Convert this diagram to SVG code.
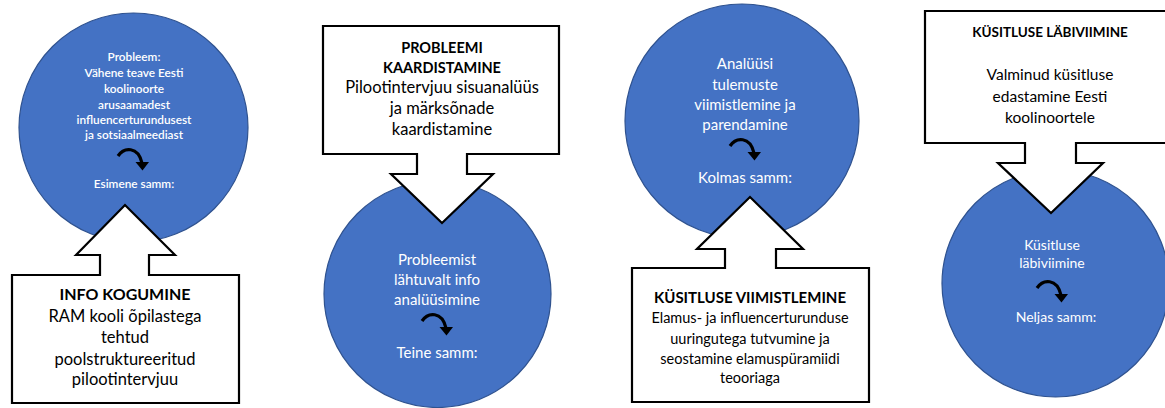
<svg xmlns="http://www.w3.org/2000/svg" width="1165" height="408" viewBox="0 0 1165 408">
<style>
.bub{fill:#4472C4;stroke:#2F528F;stroke-width:1.2}
.call{fill:#fff;stroke:#000;stroke-width:2.2;stroke-linejoin:miter}
text{font-family:Lato,"Open Sans","DejaVu Sans",sans-serif;text-anchor:middle}
.w{fill:#fff}
.k{fill:#000}
.b{font-weight:bold}
</style>
<defs>
<g id="curl">
<path d="M-15,-4 C-9,-13 5,-14 9,3" fill="none" stroke="#000" stroke-width="3.2"/>
<polygon points="2.5,2 16,2 9.5,10.5" fill="#000"/>
</g>
</defs>
<rect width="1165" height="408" fill="#fff"/>

<g id="step1">
<circle class="bub" cx="133.5" cy="127.5" r="114.5"/>
<g class="w" font-size="11.8" font-weight="600">
<text x="134" y="61">Probleem:</text>
<text x="134" y="77">Vähene teave Eesti</text>
<text x="134" y="93">koolinoorte</text>
<text x="134" y="109">arusaamadest</text>
<text x="134" y="124">influencerturundusest</text>
<text x="134" y="139">ja sotsiaalmeediast</text>
<text x="134" y="188">Esimene samm:</text>
</g>
</g>

<g id="step2">
<circle class="bub" cx="437.5" cy="294" r="113.5"/>
<g class="w" font-size="15">
<text x="437" y="265">Probleemist</text>
<text x="437" y="285">lähtuvalt info</text>
<text x="437" y="305">analüüsimine</text>
<text x="437" y="358">Teine samm:</text>
</g>
</g>

<g id="step3">
<circle class="bub" cx="742" cy="121" r="117"/>
<g class="w" font-size="15">
<text x="745" y="69">Analüüsi</text>
<text x="745" y="90">tulemuste</text>
<text x="745" y="110">viimistlemine ja</text>
<text x="745" y="130">parendamine</text>
<text x="745" y="183">Kolmas samm:</text>
</g>
</g>

<g id="step4">
<circle class="bub" cx="1055.5" cy="283.5" r="113.5"/>
<g class="w" font-size="14">
<text x="1052" y="250">Küsitluse</text>
<text x="1052" y="268">läbiviimine</text>
<text x="1056" y="322">Neljas samm:</text>
</g>
</g>

<g id="info-kogumine">
<path class="call" d="M12,275 H100 V255 H76 L125,205 L175,255 H149 V275 H239 V403 H12 Z"/>
<text class="k b" x="125" y="300" font-size="16">INFO KOGUMINE</text>
<g class="k" font-size="16.5">
<text x="125" y="321.5">RAM kooli õpilastega</text>
<text x="125" y="343">tehtud</text>
<text x="125" y="364.5">poolstruktureeritud</text>
<text x="125" y="385">pilootintervjuu</text>
</g>
</g>

<g id="probleemi-kaardistamine">
<path class="call" d="M323,26 H559 V154 H467 V174 H493 L442,223 L391,174 H417 V154 H323 Z"/>
<g class="k b" font-size="14.5">
<text x="442" y="53">PROBLEEMI</text>
<text x="442" y="73">KAARDISTAMINE</text>
</g>
<g class="k" font-size="16.5">
<text x="442" y="93">Pilootintervjuu sisuanalüüs</text>
<text x="442" y="114">ja märksõnade</text>
<text x="442" y="135">kaardistamine</text>
</g>
</g>

<g id="kusitluse-viimistlemine">
<path class="call" d="M632,268 H725 V249 H697 L750,197 L803,249 H776 V268 H869 V402 H632 Z"/>
<text class="k b" x="750" y="303" font-size="15">KÜSITLUSE VIIMISTLEMINE</text>
<g class="k" font-size="14.5">
<text x="750" y="323">Elamus- ja influencerturunduse</text>
<text x="750" y="344">uuringutega tutvumine ja</text>
<text x="750" y="364">seostamine elamuspüramiidi</text>
<text x="750" y="383">teooriaga</text>
</g>
</g>

<g id="kusitluse-labiviimine">
<path class="call" d="M925,11 H1180 V143 H1076 V163 H1103 L1051,213 L998,163 H1025 V143 H925 Z"/>
<text class="k b" x="1050" y="37" font-size="13.5">KÜSITLUSE LÄBIVIIMINE</text>
<g class="k" font-size="15.5">
<text x="1050" y="80">Valminud küsitluse</text>
<text x="1050" y="102">edastamine Eesti</text>
<text x="1050" y="123">koolinoortele</text>
</g>
</g>

<g id="connectors">
<use href="#curl" transform="translate(133,160)"/>
<use href="#curl" transform="translate(437,325)"/>
<use href="#curl" transform="translate(745,150)"/>
<use href="#curl" transform="translate(1052,292)"/>
</g>
</svg>
